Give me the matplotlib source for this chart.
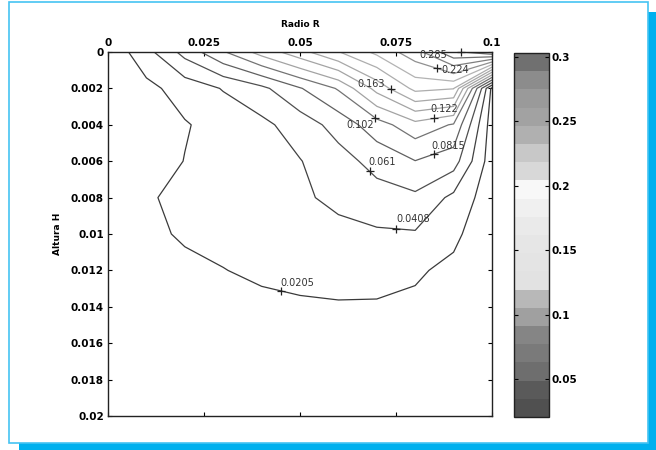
# -*- coding: utf-8 -*-
# Konturplot Radio / Altura mit Graustufen-Colorbar

import numpy as np
import matplotlib
matplotlib.use('Agg')
import matplotlib.pyplot as plt
from matplotlib.colors import ListedColormap, Normalize, to_rgb
from matplotlib.patches import Rectangle
import matplotlib.cm as cm


# %% Daten

radio = [0.0, 0.01, 0.02, 0.03, 0.04, 0.05, 0.06, 0.07, 0.08, 0.09, 0.1]
altura = [0.0, 0.002, 0.004, 0.006, 0.008, 0.01, 0.012, 0.014, 0.016, 0.018, 0.02]

z_h000 = [0.005, 0.034, 0.068, 0.100, 0.130, 0.156, 0.183, 0.209, 0.236, 0.281, 0.303]
z_h002 = [0.004, 0.015, 0.029, 0.042, 0.056, 0.080, 0.104, 0.150, 0.190, 0.185, 0.015]
z_h004 = [0.003, 0.012, 0.019, 0.028, 0.036, 0.050, 0.069, 0.093, 0.115, 0.100, 0.010]
z_h006 = [0.002, 0.010, 0.021, 0.027, 0.033, 0.040, 0.053, 0.068, 0.081, 0.070, 0.009]
z_h008 = [0.001, 0.019, 0.024, 0.029, 0.034, 0.038, 0.045, 0.053, 0.057, 0.036, 0.008]
z_h010 = [0.000, 0.014, 0.024, 0.026, 0.030, 0.033, 0.036, 0.038, 0.039, 0.025, 0.005]
z_h012 = [0.000, 0.008, 0.014, 0.020, 0.024, 0.026, 0.027, 0.026, 0.023, 0.016, 0.004]
z_h014 = [0.000, 0.006, 0.010, 0.013, 0.016, 0.018, 0.019, 0.019, 0.017, 0.012, 0.003]
z_h016 = [0.000, 0.004, 0.007, 0.010, 0.012, 0.014, 0.015, 0.015, 0.013, 0.009, 0.002]
z_h018 = [0.000, 0.003, 0.005, 0.007, 0.009, 0.010, 0.011, 0.011, 0.010, 0.007, 0.001]
z_h020 = [0.000, 0.002, 0.004, 0.005, 0.006, 0.007, 0.008, 0.008, 0.007, 0.005, 0.001]

levels = [0.0205, 0.0408, 0.061, 0.0815, 0.102, 0.122, 0.143,
          0.163, 0.184, 0.204, 0.224, 0.245, 0.265, 0.285]
z_min, z_max = 0.0205, 0.303

# beschriftete Konturen und ungefaehre Lage des '+'
lab_levels = [0.0205, 0.0408, 0.061, 0.0815, 0.102, 0.122, 0.163, 0.224, 0.285]
lab_x = [0.045, 0.075, 0.068, 0.085, 0.070, 0.085, 0.074, 0.085, 0.091]
lab_y = [0.0131, 0.0098, 0.0066, 0.0057, 0.0035, 0.0037, 0.0019, 0.0013, 0.0002]

x_ticks = [0, 0.025, 0.05, 0.075, 0.1]
y_ticks = [0, 0.002, 0.004, 0.006, 0.008, 0.01, 0.012, 0.014, 0.016, 0.018, 0.02]
cb_ticks = [0.05, 0.1, 0.15, 0.2, 0.25, 0.3]

# Graustufen der Colorbar, von unten nach oben
grays = ['#505050', '#5a5a5a', '#6e6e6e', '#7a7a7a', '#858585', '#a0a0a0',
         '#b8b8b8', '#e2e2e2', '#e4e4e4', '#e6e6e6', '#eaeaea', '#f0f0f0',
         '#f8f8f8', '#d8d8d8', '#c8c8c8', '#b0b0b0', '#a2a2a2', '#9a9a9a',
         '#8c8c8c', '#707070']

# Textversatz der Labels (pt) relativ zum '+'
lab_dx = [-0.5, 0, -1, -2, -1, -3, -4, 3.5, -10]
lab_dy = [5.5, 7, 7, 6, -5, 7, 4, -1.5, -2]
lab_ha = ['left', 'left', 'left', 'left', 'right', 'left', 'right', 'left', 'right']


# %% Plot

W, H = 656, 450


def fig_box(x0, y0, x1, y1):
    # Pixelbox -> Figure-Koordinaten
    return [x0 / W, 1 - y1 / H, (x1 - x0) / W, (y1 - y0) / H]


plt.rcParams['font.family'] = 'DejaVu Sans'

fig = plt.figure(figsize=(W / 100, H / 100), dpi=100)

# Rahmen mit Schatten
cyan = '#00b0ee'
fig.add_artist(Rectangle((648 / W, 0), 8 / W, (H - 12) / H,
                         transform=fig.transFigure, color=cyan, lw=0))
fig.add_artist(Rectangle((19 / W, 0), (W - 19) / W, 7 / H,
                         transform=fig.transFigure, color=cyan, lw=0))
fig.add_artist(Rectangle((9 / W, 1 - 443 / H), 639 / W, 441 / H,
                         transform=fig.transFigure, fill=False,
                         edgecolor='#45c3f2', lw=1.2))

cmap = ListedColormap(grays)
# Linien im Scan etwas dunkler als die Colorbar
cmap_lines = ListedColormap([tuple(0.72 * c for c in to_rgb(g)) for g in grays])
norm = Normalize(vmin=z_min, vmax=z_max)

Z = np.vstack([z_h000, z_h002, z_h004, z_h006, z_h008, z_h010,
               z_h012, z_h014, z_h016, z_h018, z_h020])

ax = fig.add_axes(fig_box(108, 52, 492, 416))
cs = ax.contour(radio, altura, Z, levels=levels, cmap=cmap_lines, norm=norm,
                linewidths=0.9)
ax.set_xlim(0, 0.1)
ax.set_ylim(0.02, 0)

ax.xaxis.tick_top()
ax.xaxis.set_label_position('top')
ax.set_xticks(x_ticks)
ax.set_xticklabels(['%g' % t for t in x_ticks])
ax.set_yticks(y_ticks)
ax.set_yticklabels(['%g' % t for t in y_ticks])
ax.tick_params(direction='in', length=3, width=0.8, top=True, bottom=True,
               left=True, right=True, labelsize=7.5, pad=3)
for lab in ax.get_xticklabels() + ax.get_yticklabels():
    lab.set_fontweight('bold')
for sp in ax.spines.values():
    sp.set_linewidth(1.0)
    sp.set_color('#222222')
ax.set_xlabel('Radio R', fontsize=6.5, fontweight='bold', labelpad=8)
ax.set_ylabel('Altura H', fontsize=6.5, fontweight='bold', labelpad=6)

# MATLAB-artige Labels: '+' auf der Linie, Text daneben
paths = cs.get_paths()
for lev, lx, ly, dx, dy, ha in zip(lab_levels, lab_x, lab_y, lab_dx, lab_dy, lab_ha):
    k = levels.index(lev)
    target = ax.transData.transform((lx, ly))
    best, best_d = None, np.inf
    for poly in paths[k].to_polygons(closed_only=False):
        pts = ax.transData.transform(poly)
        for a, b in zip(pts[:-1], pts[1:]):
            ab = b - a
            t = np.clip(np.dot(target - a, ab) / max(np.dot(ab, ab), 1e-9), 0, 1)
            p = a + t * ab
            d = np.hypot(*(p - target))
            if d < best_d:
                best, best_d = p, d
    px, py = ax.transData.inverted().transform(best)
    ax.plot(px, py, '+', color='#222222', ms=6, mew=0.9, clip_on=False)
    ax.annotate('%g' % lev, (px, py), xytext=(dx, dy), textcoords='offset points',
                ha=ha, va='center', fontsize=7, color='#333333')

# Colorbar
cax = fig.add_axes(fig_box(514, 53, 549, 417))
sm = cm.ScalarMappable(norm=norm, cmap=cmap)
cb = fig.colorbar(sm, cax=cax, ticks=cb_ticks)
cb.ax.set_yticklabels(['%g' % t for t in cb_ticks])
cax.yaxis.set_ticks_position('both')
cax.tick_params(direction='in', length=3, width=0.8, labelsize=7.5, pad=2,
                labelleft=False, labelright=True)
for lab in cax.get_yticklabels():
    lab.set_fontweight('bold')
cb.outline.set_linewidth(1.0)
cb.outline.set_edgecolor('#222222')

fig.savefig('out.png', dpi=100)
